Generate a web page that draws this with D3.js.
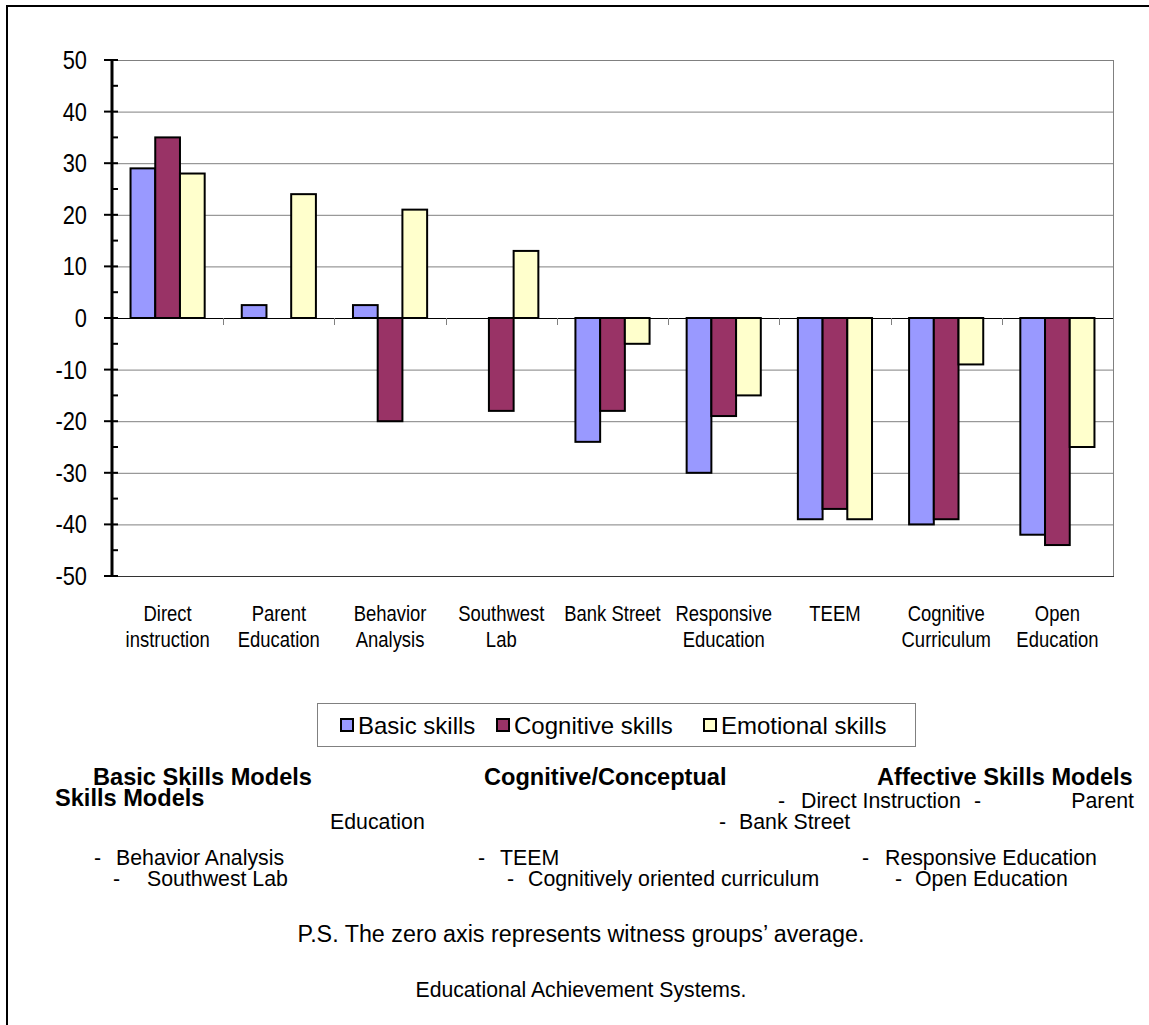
<!DOCTYPE html>
<html>
<head>
<meta charset="utf-8">
<script src="https://cdnjs.cloudflare.com/ajax/libs/d3/7.8.5/d3.min.js"></script>
<style>
  html, body { margin: 0; padding: 0; background: #fff; }
  svg { display: block; }
  text { font-family: "Liberation Sans", Arial, sans-serif; fill: #000; }
</style>
</head>
<body>
<div id="chart"></div>
<script>
// Programme models (category axis) and the three outcome series
const categories = [
  "Direct instruction", "Parent Education", "Behavior Analysis", "Southwest Lab",
  "Bank Street", "Responsive Education", "TEEM", "Cognitive Curriculum", "Open Education"
];
const categoryLines = [
  ["Direct", "instruction"], ["Parent", "Education"], ["Behavior", "Analysis"],
  ["Southwest", "Lab"], ["Bank Street"], ["Responsive", "Education"], ["TEEM"],
  ["Cognitive", "Curriculum"], ["Open", "Education"]
];
const seriesNames = ["Basic skills", "Cognitive skills", "Emotional skills"];
const basicSkills     = [29, 2.5, 2.5, 0, -24, -30, -39, -40, -42];
const cognitiveSkills = [35, 0, -20, -18, -18, -19, -37, -39, -44];
const emotionalSkills = [28, 24, 21, 13, -5, -15, -39, -9, -25];
const seriesColors = ["#9999FF", "#993366", "#FFFFCC"];
const yTicks = [50, 40, 30, 20, 10, 0, -10, -20, -30, -40, -50];

const W = 1149, H = 1025;
const plot = { left: 112, right: 1113, top: 60, bottom: 576 };

const svg = d3.select("#chart").append("svg").attr("width", W).attr("height", H);

// page frame (top and left rules)
svg.append("line").attr("x1", 6).attr("x2", W).attr("y1", 6).attr("y2", 6)
  .attr("stroke", "#000").attr("stroke-width", 2);
svg.append("line").attr("x1", 7).attr("x2", 7).attr("y1", 6).attr("y2", H)
  .attr("stroke", "#000").attr("stroke-width", 2);

const y = d3.scaleLinear().domain([-50, 50]).range([plot.bottom, plot.top]);
const x = d3.scaleBand().domain(categories).range([plot.left, plot.right])
  .paddingInner(1 / 3).paddingOuter(1 / 6);
const xs = d3.scaleBand().domain(seriesNames).range([0, x.bandwidth()]);

// horizontal gridlines
svg.append("g").selectAll("line").data(yTicks.filter(t => t !== 0 && t !== -50)).join("line")
  .attr("x1", plot.left).attr("x2", plot.right)
  .attr("y1", d => y(d) + 0.5).attr("y2", d => y(d) + 0.5)
  .attr("stroke", "#808080").attr("stroke-width", 1);
// plot frame: right and bottom edges
svg.append("line").attr("x1", plot.right + 0.5).attr("x2", plot.right + 0.5)
  .attr("y1", plot.top).attr("y2", plot.bottom).attr("stroke", "#808080");
svg.append("line").attr("x1", plot.left).attr("x2", plot.right + 1)
  .attr("y1", plot.bottom + 0.5).attr("y2", plot.bottom + 0.5).attr("stroke", "#333");

// bars
const seriesData = [basicSkills, cognitiveSkills, emotionalSkills];
const groups = svg.append("g").selectAll("g").data(categories).join("g")
  .attr("transform", d => `translate(${x(d)},0)`);
groups.selectAll("rect")
  .data((c, i) => seriesData.map((s, k) => ({ name: seriesNames[k], v: s[i], k })))
  .join("rect")
  .attr("x", d => xs(d.name))
  .attr("width", xs.bandwidth())
  .attr("y", d => Math.min(y(d.v), y(0)))
  .attr("height", d => Math.abs(y(d.v) - y(0)))
  .attr("fill", d => seriesColors[d.k])
  .attr("stroke", d => d.v === 0 ? "none" : "#000")
  .attr("stroke-width", 2);

// zero (category) axis with ticks at category boundaries
svg.append("line").attr("x1", plot.left).attr("x2", plot.right + 1)
  .attr("y1", y(0) + 0.5).attr("y2", y(0) + 0.5).attr("stroke", "#000");
const boundaries = d3.range(1, categories.length + 1).map(i => plot.left + i * x.step());
svg.append("g").selectAll("line").data(boundaries).join("line")
  .attr("x1", d => Math.round(d) + 0.5).attr("x2", d => Math.round(d) + 0.5)
  .attr("y1", y(0)).attr("y2", y(0) + 7)
  .attr("stroke", "#808080");

// value axis
const yAxis = svg.append("g");
yAxis.append("line").attr("x1", plot.left).attr("x2", plot.left)
  .attr("y1", plot.top).attr("y2", plot.bottom).attr("stroke", "#000").attr("stroke-width", 3);
yAxis.selectAll("line.major").data(yTicks).join("line").attr("class", "major")
  .attr("x1", plot.left - 8).attr("x2", plot.left + 6)
  .attr("y1", d => y(d)).attr("y2", d => y(d)).attr("stroke", "#000").attr("stroke-width", 2);
yAxis.selectAll("line.minor").data(d3.range(-45, 50, 10)).join("line").attr("class", "minor")
  .attr("x1", plot.left).attr("x2", plot.left + 6)
  .attr("y1", d => y(d)).attr("y2", d => y(d)).attr("stroke", "#000").attr("stroke-width", 2);
yAxis.selectAll("text").data(yTicks).join("text")
  .attr("transform", d => `translate(87,${y(d) + 9}) scale(0.84,1)`)
  .attr("text-anchor", "end").attr("font-size", 26).text(d => d);

// category labels
const cat = svg.append("g").selectAll("g").data(categories).join("g")
  .attr("transform", d => `translate(${x(d) + x.bandwidth() / 2},0)`);
cat.selectAll("text").data((d, i) => categoryLines[i]).join("text")
  .attr("transform", (d, j) => `translate(0,${621 + j * 26}) scale(0.84,1)`)
  .attr("text-anchor", "middle").attr("font-size", 22).text(d => d);

// legend
const legend = svg.append("g");
legend.append("rect").attr("x", 317.5).attr("y", 703.5).attr("width", 598).attr("height", 43)
  .attr("fill", "#fff").attr("stroke", "#808080");
const legendX = [341, 497, 704];
const li = legend.selectAll("g").data(seriesNames).join("g")
  .attr("transform", (d, i) => `translate(${legendX[i]},0)`);
li.append("rect").attr("x", 0).attr("y", 719).attr("width", 12).attr("height", 12)
  .attr("fill", (d, i) => seriesColors[i]).attr("stroke", "#000").attr("stroke-width", 2);
li.append("text").attr("x", 17).attr("y", 734).attr("font-size", 24).text(d => d);

// model groupings underneath the chart
const notes = [
  { t: "Basic Skills Models", x: 93, y: 785, b: true },
  { t: "Cognitive/Conceptual", x: 484, y: 785, b: true },
  { t: "Affective Skills Models", x: 877, y: 785, b: true },
  { t: "Skills Models", x: 55, y: 806, b: true },
  { t: "-", x: 778, y: 808 }, { t: "Direct Instruction", x: 801, y: 808 },
  { t: "-", x: 974, y: 808 }, { t: "Parent", x: 1134, y: 808, end: true },
  { t: "Education", x: 330, y: 829 },
  { t: "-", x: 719, y: 829 }, { t: "Bank Street", x: 739, y: 829 },
  { t: "-", x: 94, y: 865 }, { t: "Behavior Analysis", x: 116, y: 865 },
  { t: "-", x: 478, y: 865 }, { t: "TEEM", x: 500, y: 865 },
  { t: "-", x: 862, y: 865 }, { t: "Responsive Education", x: 885, y: 865 },
  { t: "-", x: 113, y: 886 }, { t: "Southwest Lab", x: 147, y: 886 },
  { t: "-", x: 507, y: 886 }, { t: "Cognitively oriented curriculum", x: 528, y: 886 },
  { t: "-", x: 895, y: 886 }, { t: "Open Education", x: 915, y: 886 }
];
svg.append("g").selectAll("text").data(notes).join("text")
  .attr("x", d => d.x).attr("y", d => d.y)
  .attr("text-anchor", d => d.end ? "end" : "start")
  .attr("font-size", d => d.b ? 23.6 : 21.3)
  .attr("font-weight", d => d.b ? "bold" : "normal")
  .text(d => d.t);

svg.append("text").attr("x", 581).attr("y", 942).attr("text-anchor", "middle")
  .attr("font-size", 23.3).text("P.S. The zero axis represents witness groups\u2019 average.");
svg.append("text").attr("x", 581).attr("y", 997).attr("text-anchor", "middle")
  .attr("font-size", 21.2).text("Educational Achievement Systems.");
</script>
</body>
</html>
